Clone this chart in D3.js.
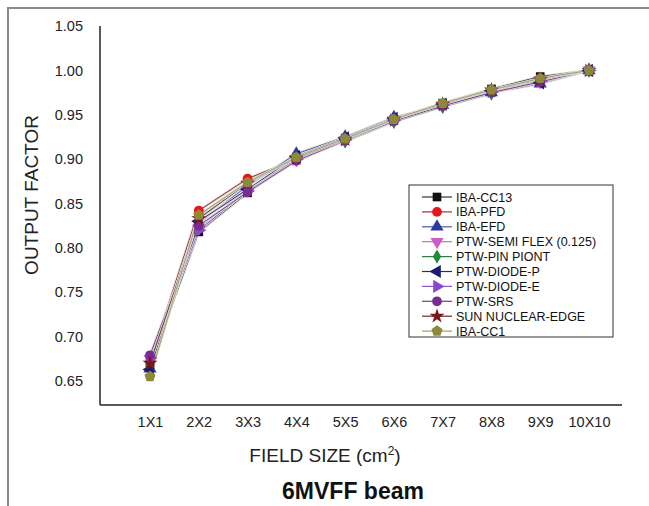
<!DOCTYPE html>
<html>
<head>
<meta charset="utf-8">
<script src="https://cdn.jsdelivr.net/npm/d3@7"></script>
<style>
  body { margin: 0; background: #fff; }
  text { font-family: "Liberation Sans", Arial, sans-serif; }
</style>
</head>
<body>
<svg id="chart" width="649" height="506"></svg>
<script>
'use strict';

var fieldSizes = ['1X1', '2X2', '3X3', '4X4', '5X5', '6X6', '7X7', '8X8', '9X9', '10X10'];
var yTicks = [0.65, 0.70, 0.75, 0.80, 0.85, 0.90, 0.95, 1.00, 1.05];

var cc13     = [0.668, 0.818, 0.862, 0.902, 0.923, 0.945, 0.963, 0.979, 0.993, 1.000];
var pfd      = [0.672, 0.842, 0.878, 0.900, 0.924, 0.944, 0.962, 0.978, 0.990, 1.000];
var efd      = [0.664, 0.828, 0.870, 0.906, 0.925, 0.947, 0.961, 0.975, 0.985, 1.000];
var semiFlex = [0.675, 0.822, 0.865, 0.899, 0.921, 0.943, 0.960, 0.976, 0.987, 1.000];
var pinPoint = [0.667, 0.835, 0.872, 0.901, 0.920, 0.942, 0.959, 0.974, 0.989, 1.000];
var diodeP   = [0.663, 0.830, 0.866, 0.903, 0.924, 0.946, 0.962, 0.977, 0.986, 1.000];
var diodeE   = [0.676, 0.820, 0.864, 0.900, 0.922, 0.944, 0.961, 0.976, 0.988, 1.000];
var srs      = [0.679, 0.825, 0.863, 0.898, 0.921, 0.943, 0.960, 0.975, 0.987, 1.000];
var sunEdge  = [0.670, 0.833, 0.873, 0.901, 0.922, 0.945, 0.962, 0.978, 0.990, 1.000];
var cc1      = [0.655, 0.837, 0.874, 0.902, 0.923, 0.945, 0.963, 0.978, 0.991, 1.000];

var series = [
	{name: 'IBA-CC13', values: cc13, color: '#111111', line: '#333333', shape: 'square'},
	{name: 'IBA-PFD', values: pfd, color: '#e8141c', line: '#a0302a', shape: 'circle'},
	{name: 'IBA-EFD', values: efd, color: '#2c3aa0', line: '#4a5aa8', shape: 'up'},
	{name: 'PTW-SEMI FLEX (0.125)', values: semiFlex, color: '#c860c8', line: '#c070c0', shape: 'down'},
	{name: 'PTW-PIN PIONT', values: pinPoint, color: '#1e8a3a', line: '#2e7a40', shape: 'diamond'},
	{name: 'PTW-DIODE-P', values: diodeP, color: '#1c1c70', line: '#2a2a70', shape: 'left'},
	{name: 'PTW-DIODE-E', values: diodeE, color: '#8a48d0', line: '#8a58c8', shape: 'right'},
	{name: 'PTW-SRS', values: srs, color: '#7a2a90', line: '#7a3a8a', shape: 'circle'},
	{name: 'SUN NUCLEAR-EDGE', values: sunEdge, color: '#7a1818', line: '#6a2a2a', shape: 'star'},
	{name: 'IBA-CC1', values: cc1, color: '#8c8a38', line: '#a0a060', shape: 'pentagon'}
];

var svg = d3.select('#chart');

// outer frame
svg.append('rect').attr('x', 8).attr('y', 8).attr('width', 700).attr('height', 600)
	.attr('fill', 'none').attr('stroke', '#8a8a8a').attr('stroke-width', 2);

var x = d3.scalePoint().domain(fieldSizes).range([150, 589]);
var y = d3.scaleLinear().domain([0.623, 1.05]).range([405, 26]);

// y axis
var yAxis = svg.append('g').attr('transform', 'translate(100,0)')
	.call(d3.axisLeft(y).tickValues(yTicks).tickFormat(d3.format('.2f')).tickSize(0).tickPadding(17));
yAxis.select('.domain').remove();
yAxis.selectAll('text').style('font-size', '14.5px').attr('fill', '#222');

// x axis
var xAxis = svg.append('g').attr('transform', 'translate(0,405)')
	.call(d3.axisBottom(x).tickSize(0).tickPadding(12));
xAxis.select('.domain').remove();
xAxis.selectAll('text').style('font-size', '14.5px').attr('fill', '#222');

svg.append('line').attr('x1', 100).attr('x2', 100).attr('y1', y(1.05)).attr('y2', 405)
	.attr('stroke', '#222').attr('stroke-width', 1.5);
svg.append('line').attr('x1', 100).attr('x2', 622).attr('y1', 405).attr('y2', 405)
	.attr('stroke', '#222').attr('stroke-width', 1.5);

// axis titles
svg.append('text').attr('transform', 'translate(38,' + 195 + ') rotate(-90)')
	.attr('text-anchor', 'middle').style('font-size', '19px').attr('fill', '#222')
	.text('OUTPUT FACTOR');

var xt = svg.append('text').attr('x', 325).attr('y', 462).attr('text-anchor', 'middle')
	.style('font-size', '19px').attr('fill', '#222');
xt.append('tspan').text('FIELD SIZE (cm');
xt.append('tspan').attr('dy', -7).style('font-size', '12px').text('2');
xt.append('tspan').attr('dy', 7).text(')');

svg.append('text').attr('x', 353).attr('y', 499).attr('text-anchor', 'middle')
	.style('font-size', '23px').style('font-weight', 'bold').attr('fill', '#111')
	.text('6MVFF beam');

function symbolFor(shape) {
	var s = {
		square: d3.symbolSquare, circle: d3.symbolCircle, diamond: d3.symbolDiamond,
		star: d3.symbolStar, up: d3.symbolTriangle, down: d3.symbolTriangle,
		left: d3.symbolTriangle, right: d3.symbolTriangle
	}[shape];
	if (shape === 'pentagon') {
		return function () {
			var r = 5.8, pts = [];
			for (var i = 0; i < 5; i++) {
				var a = -Math.PI / 2 + i * 2 * Math.PI / 5;
				pts.push([r * Math.cos(a), r * Math.sin(a)]);
			}
			return 'M' + pts.join('L') + 'Z';
		};
	}
	var size = shape === 'star' ? 70 : (shape === 'diamond' ? 60 : 75);
	return d3.symbol(s, size);
}
function rotFor(shape) {
	return {down: 180, left: -90, right: 90}[shape] || 0;
}

var line = d3.line().x(function (d, i) { return x(fieldSizes[i]); }).y(function (d) { return y(d); });

series.forEach(function (s) {
	svg.append('path').datum(s.values).attr('d', line)
		.attr('fill', 'none').attr('stroke', '#d8d8d8').attr('stroke-width', 2.6);
	svg.append('path').datum(s.values).attr('d', line)
		.attr('fill', 'none').attr('stroke', s.line).attr('stroke-width', 1);
});

series.forEach(function (s) {
	svg.append('g').selectAll('path').data(s.values).join('path')
		.attr('transform', function (d, i) {
			return 'translate(' + x(fieldSizes[i]) + ',' + y(d) + ') rotate(' + rotFor(s.shape) + ')';
		})
		.attr('d', symbolFor(s.shape))
		.attr('fill', s.color);
});

// legend
var lg = svg.append('g').attr('transform', 'translate(409,185)');
lg.append('rect').attr('width', 204).attr('height', 152)
	.attr('fill', '#fff').attr('stroke', '#333').attr('stroke-width', 1);
series.forEach(function (s, i) {
	var row = lg.append('g').attr('transform', 'translate(0,' + (12 + i * 14.9) + ')');
	row.append('line').attr('x1', 13).attr('x2', 43).attr('stroke', s.line).attr('stroke-width', 1.2);
	row.append('path').attr('transform', 'translate(28,0) rotate(' + rotFor(s.shape) + ')')
		.attr('d', symbolFor(s.shape)).attr('fill', s.color);
	row.append('text').attr('x', 47).attr('y', 4.5).style('font-size', '12.5px').attr('fill', '#111')
		.text(s.name);
});
</script>
</body>
</html>
